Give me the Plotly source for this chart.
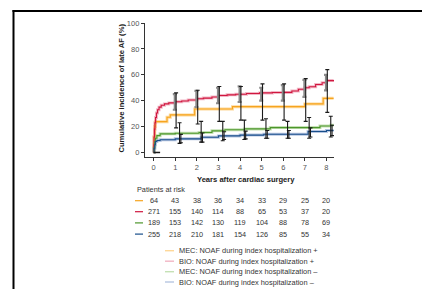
import plotly.graph_objects as go

# ---------------- data ----------------
years = [0, 1, 2, 3, 4, 5, 6, 7, 8]

red_t = [0, 0.01, 0.02, 0.04, 0.06, 0.09, 0.13, 0.18, 0.25, 0.35, 0.5, 0.7, 1.0, 1.3, 1.6, 2.0,
         2.3, 2.7, 3.0, 3.4, 3.8, 4.3, 4.9, 5.5, 6.0, 6.4, 6.7, 7.0, 7.2, 7.5, 7.8, 8.0, 8.33]
red_y = [0, 6, 12, 18, 23, 27, 30.5, 33, 35, 36.5, 37.5, 38.3, 39.2, 39.8, 40.5, 41.5,
         42, 42.8, 44, 44.5, 45, 45.5, 46, 46.3, 46.4, 47.5, 48.8, 50, 50.8, 52.5, 53.8, 55.5, 56]

orange_t = [0, 0.02, 0.05, 0.08, 0.62, 0.77, 1.9, 3.65, 7.0, 7.85, 8.33]
orange_y = [0, 12, 20, 23.8, 27.2, 29, 33.6, 35.4, 37.5, 41.8, 41.8]

green_t = [0, 0.02, 0.05, 0.08, 0.15, 0.3, 1.0, 2.1, 2.7, 3.3, 4.2, 5.4, 7.7, 8.2, 8.33]
green_y = [0, 4, 8, 11, 13, 14.4, 14.9, 15.4, 16.7, 17.5, 18.2, 19.2, 20.5, 21, 21]

blue_t = [0, 0.02, 0.05, 0.08, 0.15, 0.3, 1.0, 2.2, 3.0, 4.0, 5.1, 7.15, 8.0, 8.33]
blue_y = [0, 3, 6, 8.5, 9.2, 9.8, 10.5, 11.8, 12.8, 13.4, 14.1, 16.2, 17, 17]

ci_years = [1, 2, 3, 4, 5, 6, 7, 8]
red_ci_mid = [39.2, 41.5, 44, 45.3, 46, 46.4, 50, 55.5]
red_ci_lo = [33, 35, 38, 39, 40, 40, 43, 48]
red_ci_hi = [45, 47.5, 50, 51, 50, 52, 56, 60]
orange_ci_mid = [28, 33.6, 33.6, 35.4, 35.4, 35.4, 37.5, 41.8]
orange_ci_lo = [19, 22, 24, 25, 25, 25, 24, 31]
orange_ci_hi = [46, 48, 51, 51, 53, 53, 57, 64]
green_ci_mid = [14.9, 15.4, 17.5, 18.2, 19.2, 19.2, 20, 20.5]
green_ci_lo = [7, 8, 9, 10, 11, 11, 11, 12]
green_ci_hi = [23, 24, 24, 25, 26, 24, 27, 28]
blue_ci_mid = [10.5, 11.8, 12.8, 13.4, 14.1, 14.1, 16.2, 17]
blue_ci_lo = [7.5, 8, 10, 10.5, 11, 11, 12, 13]
blue_ci_hi = [14, 15, 16, 16.5, 17, 17, 19, 21]

origin_x = [0, 0.3]
origin_y = [0, 0]

risk_orange = [64, 43, 38, 36, 34, 33, 29, 25, 20]
risk_red = [271, 155, 140, 114, 88, 65, 53, 37, 20]
risk_green = [189, 153, 142, 130, 119, 104, 88, 78, 69]
risk_blue = [255, 218, 210, 181, 154, 126, 85, 55, 34]

legend_labels = ["MEC: NOAF during index hospitalization +",
                 "BIO: NOAF during index hospitalization +",
                 "MEC: NOAF during index hospitalization \u2013",
                 "BIO: NOAF during index hospitalization \u2013"]

# ---------------- style ----------------
C_ORANGE, L_ORANGE = "#F6A41F", "rgba(253,200,110,0.7)"
C_RED, L_RED = "#D0173F", "rgba(230,110,140,0.5)"
C_GREEN, L_GREEN = "#4C962B", "rgba(150,200,120,0.55)"
C_BLUE, L_BLUE = "#184E8A", "rgba(120,150,200,0.55)"
FONT = "Liberation Sans, Arial, sans-serif"

# the page body has an 8px default margin: shift everything by it
OFF = 8
W, H = 430 - OFF, 289 - OFF
ML, MT = 145 - OFF, 23 - OFF
PW, PH = 189, 134
MR, MB = W - ML - PW, H - MT - PH


def px(x):
    return (x - OFF - ML) / PW


def py(y):
    return (MT + PH - (y - OFF)) / PH


fig = go.Figure()

series = [
    (orange_t, orange_y, C_ORANGE, L_ORANGE),
    (red_t, red_y, C_RED, L_RED),
    (green_t, green_y, C_GREEN, L_GREEN),
    (blue_t, blue_y, C_BLUE, L_BLUE),
]
for t, y, c, lc in series:
    fig.add_trace(go.Scatter(x=t, y=y, mode="lines", line=dict(color=lc, width=3, shape="hv"),
                             hoverinfo="skip", showlegend=False))
for t, y, c, lc in series:
    fig.add_trace(go.Scatter(x=t, y=y, mode="lines", line=dict(color=c, width=1.1, shape="hv"),
                             showlegend=False))


def ci_trace(dx, mid, lo, hi, color, thick):
    return go.Scatter(
        x=[k + dx for k in ci_years], y=mid, mode="markers",
        marker=dict(size=1, color="rgba(0,0,0,0)"),
        error_y=dict(type="data", symmetric=False,
                     array=[h - m for h, m in zip(hi, mid)],
                     arrayminus=[m - l for l, m in zip(lo, mid)],
                     color=color, thickness=thick, width=2),
        showlegend=False, hoverinfo="skip")


fig.add_trace(ci_trace(-0.02, red_ci_mid, red_ci_lo, red_ci_hi, "#8a8a8a", 2.2))
fig.add_trace(ci_trace(0.04, orange_ci_mid, orange_ci_lo, orange_ci_hi, "#1a1a1a", 1.1))
fig.add_trace(ci_trace(0.2, green_ci_mid, green_ci_lo, green_ci_hi, "#1a1a1a", 1.1))
fig.add_trace(ci_trace(0.26, blue_ci_mid, blue_ci_lo, blue_ci_hi, "#1a1a1a", 1.1))
fig.add_trace(go.Scatter(x=origin_x, y=origin_y, mode="lines", line=dict(color="#1a1a1a", width=1.5),
                         showlegend=False))

ann = []
shapes = []
# axis titles
ann.append(dict(text="<b>Years after cardiac surgery</b>", x=px(246), y=py(179.5), xref="paper", yref="paper",
                showarrow=False, font=dict(size=7.6, color="#222", family=FONT), xanchor="center", yanchor="middle"))
ann.append(dict(text="<b>Cumulative incidence of late AF (%)</b>", x=px(121), y=py(88.5), xref="paper", yref="paper",
                showarrow=False, textangle=-90, font=dict(size=7.6, color="#222", family=FONT),
                xanchor="center", yanchor="middle"))
# risk table
ann.append(dict(text="Patients at risk", x=px(135), y=py(189.5), xref="paper", yref="paper", showarrow=False,
                font=dict(size=7.3, color="#333", family=FONT), xanchor="left", yanchor="middle"))
rows = [(risk_orange, C_ORANGE, 200.7), (risk_red, C_RED, 211.7), (risk_green, C_GREEN, 222.9), (risk_blue, C_BLUE, 234.1)]
for vals, col, yy in rows:
    shapes.append(dict(type="line", xref="paper", yref="paper", x0=px(135), x1=px(143), y0=py(yy), y1=py(yy),
                       line=dict(color=col, width=1.2)))
    for k, v in zip(years, vals):
        ann.append(dict(text=str(v), x=k, y=py(yy), xref="x", yref="paper", showarrow=False,
                        font=dict(size=7.3, color="#333", family=FONT), xanchor="center", yanchor="middle"))
# legend
leg_cols = [L_ORANGE, L_RED, L_GREEN, L_BLUE]
leg_y = [250.7, 261.2, 271.7, 282]
for lab, col, yy in zip(legend_labels, leg_cols, leg_y):
    shapes.append(dict(type="line", xref="paper", yref="paper", x0=px(165), x1=px(174), y0=py(yy), y1=py(yy),
                       line=dict(color=col, width=1.4)))
    ann.append(dict(text=lab, x=px(177), y=py(yy), xref="paper", yref="paper", showarrow=False,
                    font=dict(size=7.4, color="#333", family=FONT), xanchor="left", yanchor="middle"))
# frame
shapes.append(dict(type="line", xref="paper", yref="paper", x0=px(13.5), x1=px(13.5), y0=py(10), y1=py(300),
                   line=dict(color="black", width=2)))
shapes.append(dict(type="line", xref="paper", yref="paper", x0=px(12.5), x1=px(440), y0=py(11), y1=py(11),
                   line=dict(color="black", width=2)))

fig.update_layout(
    width=W, height=H, margin=dict(l=ML, r=MR, t=MT, b=MB),
    paper_bgcolor="white", plot_bgcolor="white",
    font=dict(family=FONT, size=7.5, color="#444"),
    xaxis=dict(range=[-0.4, 8.35], tickvals=years, ticks="outside", ticklen=3, tickwidth=1, tickcolor="#333",
               showline=True, linecolor="#333", linewidth=1.3, showgrid=False, zeroline=False,
               tickfont=dict(size=7.5, color="#555")),
    yaxis=dict(range=[-3.5, 100], tickvals=[0, 20, 40, 60, 80, 100], ticks="outside", ticklen=3, tickwidth=1,
               tickcolor="#333", showline=True, linecolor="#333", linewidth=1.3, showgrid=False, zeroline=False,
               tickfont=dict(size=7.5, color="#555")),
    annotations=ann, shapes=shapes, showlegend=False,
)
fig.write_html("out.html")
